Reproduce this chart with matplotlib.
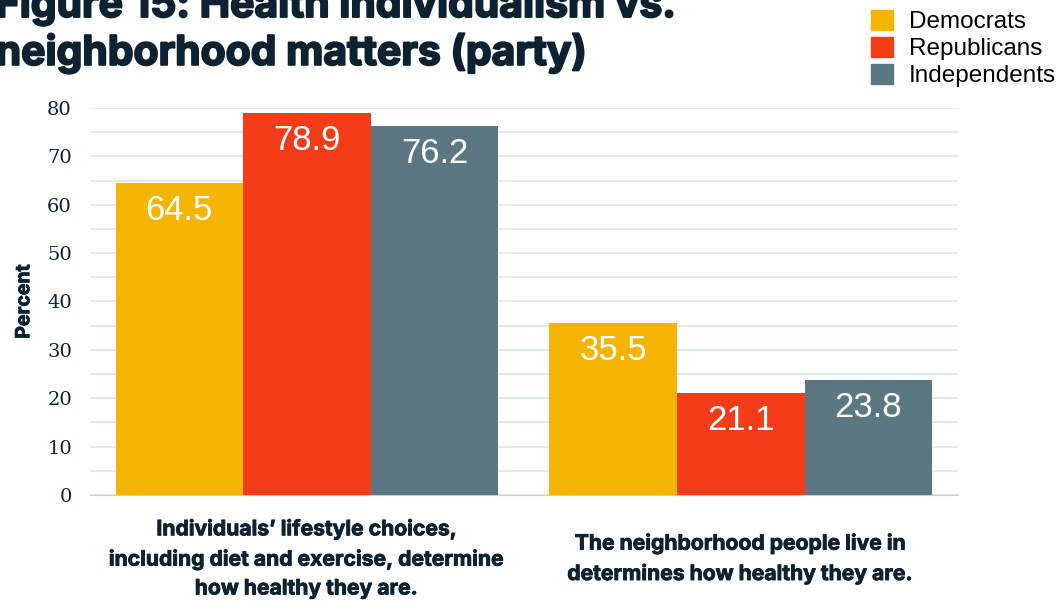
import numpy as np
import matplotlib.pyplot as plt
import matplotlib.patheffects as pe
from matplotlib.patches import Patch

categories = [
    "Individuals\u2019 lifestyle choices,\nincluding diet and exercise, determine\nhow healthy they are.",
    "The neighborhood people live in\ndetermines how healthy they are.",
]
parties = ["Democrats", "Republicans", "Independents"]
democrats = [64.5, 35.5]
republicans = [78.9, 21.1]
independents = [76.2, 23.8]

colors = ["#f4b400", "#f43c19", "#5a7782"]
navy = "#0c2230"
heavy = "Inter"


def thick(lw):
    # fatten the bold face a little
    return [pe.withStroke(linewidth=lw, foreground=navy)]


fig = plt.figure(figsize=(10.63, 6.06), dpi=100)
ax = fig.add_axes([0.0847, 0.1832, 0.8163, 0.6386])

x = np.arange(len(categories))
w = 0.294
for i, (vals, name, col) in enumerate(zip([democrats, republicans, independents], parties, colors)):
    bars = ax.bar(x + (i - 1) * w, vals, w, color=col, label=name, zorder=3)
    for b, v in zip(bars, vals):
        ax.annotate(f"{v:.1f}", (b.get_x() + b.get_width() / 2, v),
                    xytext=(0, -11), textcoords="offset pixels",
                    ha="center", va="top", color="white", fontsize=25,
                    family="Liberation Sans", zorder=4)

ax.set_xlim(-0.5, 1.5)
ax.set_ylim(0, 80)
ax.set_yticks(np.arange(0, 81, 10))
ax.set_yticks(np.arange(0, 81, 5), minor=True)
ax.grid(axis="y", which="both", color="#dce5ec", lw=1.2, zorder=0)
ax.tick_params(axis="y", which="both", length=0, pad=13, labelsize=14, labelcolor=navy)
for lbl in ax.get_yticklabels():
    lbl.set_family("DejaVu Serif")
ax.set_xticks([])
for s in ["top", "right", "left"]:
    ax.spines[s].set_visible(False)
ax.spines["bottom"].set_color("#c9d0d5")

ax.set_ylabel("Percent", fontsize=14, fontweight="bold", family=heavy, color=navy,
              labelpad=10, path_effects=thick(0.6))

for xi, cat in zip(x, categories):
    ax.text(xi, -13.1, cat, ha="center", va="center", multialignment="center",
            fontsize=15.2, fontweight="bold", family=heavy, color=navy,
            linespacing=1.55, transform=ax.transData, path_effects=thick(0.6))

fig.text(-0.004, 0.972, "Figure 15: Health individualism vs.", fontsize=29.4,
         fontweight="bold", family=heavy, color=navy, va="baseline", path_effects=thick(1.4))
fig.text(-0.004, 0.893, "neighborhood matters (party)", fontsize=29.4,
         fontweight="bold", family=heavy, color=navy, va="baseline", path_effects=thick(1.4))

handles = [Patch(color=c, label=p) for c, p in zip(colors, parties)]
fig.legend(handles=handles, loc="upper right", bbox_to_anchor=(1.0, 0.996),
           frameon=False, prop={"family": "Liberation Sans", "size": 17.5},
           handlelength=0.9, handleheight=0.9, handletextpad=0.65,
           labelspacing=0.15, borderpad=0.2, borderaxespad=0.1)

fig.savefig("out.png", dpi=100)
